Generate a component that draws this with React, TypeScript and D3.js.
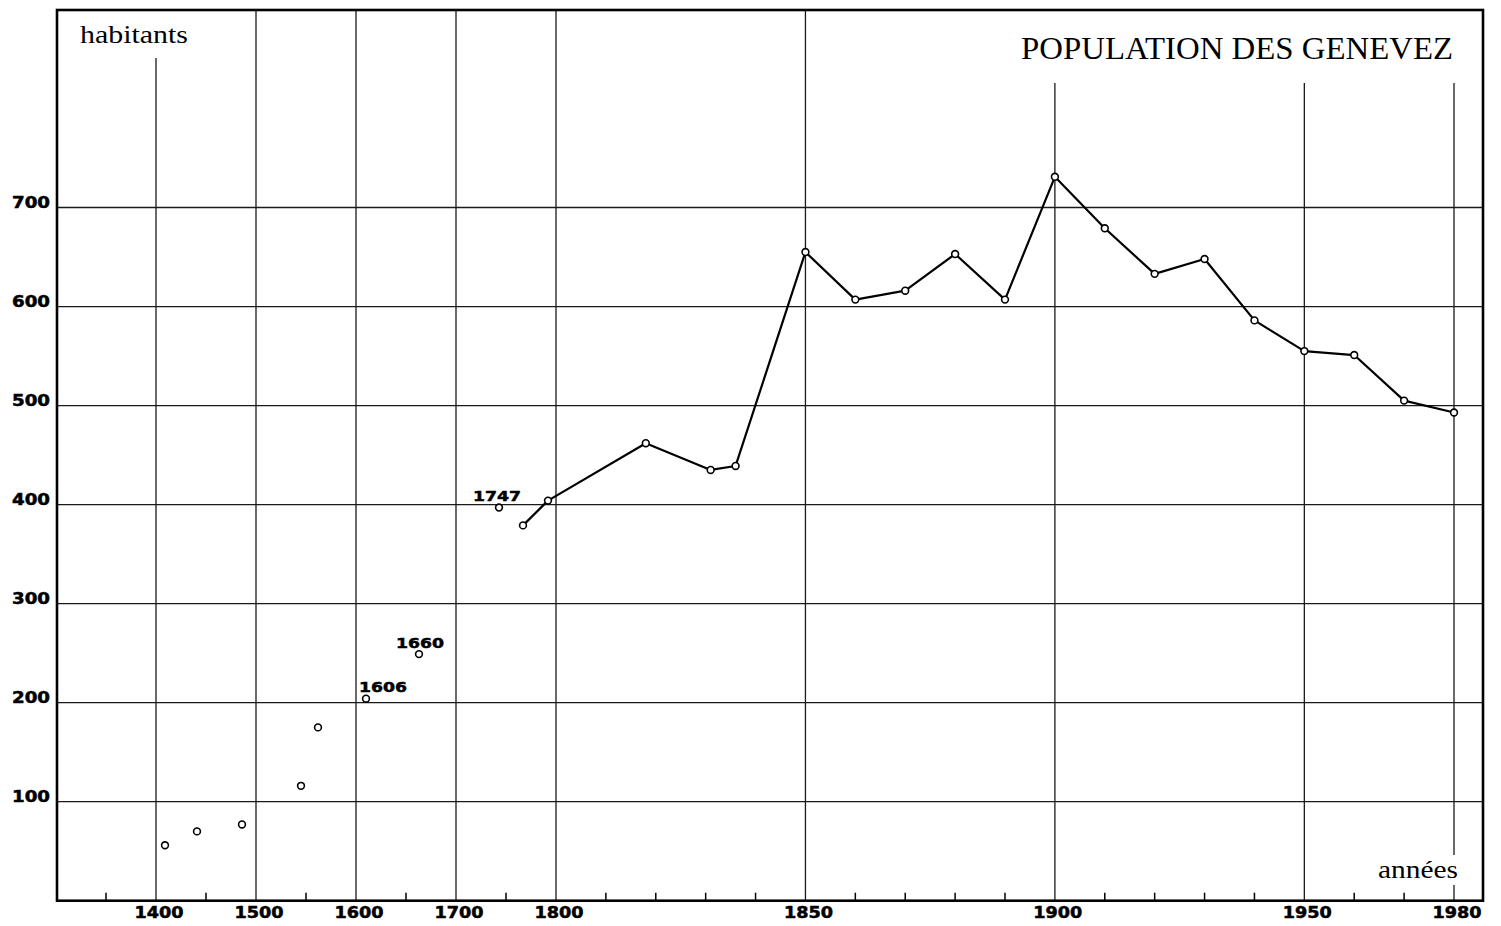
import React from "react";
import * as d3 from "d3";

// ---- data ----
const EARLY_YEARS = [1409, 1441, 1486, 1545, 1562, 1610, 1663, 1743];
const EARLY_VALUES = [56, 70, 77, 116, 175, 204, 249, 397];
const EARLY_LABELS = ["", "", "", "", "", "1606", "1660", "1747"];

const SERIES_YEARS = [1767, 1792, 1818, 1831, 1836, 1850, 1860, 1870, 1880, 1890, 1900, 1910, 1920, 1930, 1940, 1950, 1960, 1970, 1980];
const SERIES_VALUES = [379, 404, 462, 435, 439, 655, 607, 616, 653, 607, 731, 679, 633, 648, 586, 555, 551, 505, 493];

const Y_TICKS = [100, 200, 300, 400, 500, 600, 700];
const X_MAJOR = [1400, 1500, 1600, 1700, 1800, 1850, 1900, 1950, 1980];
const X_MINOR = [1350, 1450, 1550, 1650, 1750, 1810, 1820, 1830, 1840, 1860, 1870, 1880, 1890, 1910, 1920, 1930, 1940, 1960, 1970];

const TITLE = "POPULATION DES GENEVEZ";
const Y_TITLE = "habitants";
const X_TITLE = "années";

// ---- layout ----
const W = 1501, H = 926;
const L = 57, T = 10, R = 1483, B = 900.7;
const DIGIT_FONT = "'DejaVu Sans', sans-serif";
const SERIF = "'Liberation Serif', 'Times New Roman', serif";

// top of each major gridline (some are shortened below text)
const gridTop: Record<number, number> = { 1400: 58, 1900: 83, 1950: 83, 1980: 83 };
// label offsets for annotations
const labelDx: Record<string, number> = { "1606": 17, "1660": 1, "1747": -2 };

export default function App() {
  const x = d3.scaleLinear().domain([1301, 1800, 1980]).range([L, 556, 1454]);
  const y = d3.scaleLinear().domain([0, 700]).range([B, 207.5]);

  const seriesPts = SERIES_YEARS.map((yr, i) => [x(yr), y(SERIES_VALUES[i])] as [number, number]);
  const line = d3.line()(seriesPts) || "";

  const earlyPts = EARLY_YEARS.map((yr, i) => ({ cx: x(yr), cy: y(EARLY_VALUES[i]), label: EARLY_LABELS[i] }));

  const gridColor = "#1a1a1a";
  const digitProps = {
    fontFamily: DIGIT_FONT,
    fontWeight: "bold" as const,
    fill: "#000",
    stroke: "#000",
    strokeWidth: 0.5,
    lengthAdjust: "spacingAndGlyphs" as const,
  };

  return (
    <svg width={W} height={H} style={{ position: "absolute", left: 0, top: 0, background: "#fff" }}>
      <rect x={0} y={0} width={W} height={H} fill="#fff" />
      {/* horizontal gridlines */}
      {Y_TICKS.map((v) => (
        <line key={"h" + v} x1={L} x2={R} y1={y(v)} y2={y(v)} stroke={gridColor} strokeWidth={1.3} />
      ))}
      {/* vertical gridlines */}
      {X_MAJOR.map((yr) => {
        const top = gridTop[yr] ?? T;
        if (yr === 1980) {
          return (
            <g key={"v" + yr}>
              <line x1={x(yr)} x2={x(yr)} y1={top} y2={855} stroke={gridColor} strokeWidth={1.3} />
              <line x1={x(yr)} x2={x(yr)} y1={885} y2={B} stroke={gridColor} strokeWidth={1.3} />
            </g>
          );
        }
        return <line key={"v" + yr} x1={x(yr)} x2={x(yr)} y1={top} y2={B} stroke={gridColor} strokeWidth={1.3} />;
      })}
      {/* minor ticks */}
      {X_MINOR.map((yr) => (
        <line key={"m" + yr} x1={x(yr)} x2={x(yr)} y1={B - 8} y2={B} stroke="#000" strokeWidth={1.5} />
      ))}
      {/* frame */}
      <rect x={L} y={T} width={R - L} height={B - T} fill="none" stroke="#000" strokeWidth={2.6} />

      {/* y labels */}
      {Y_TICKS.map((v) => (
        <text key={"yl" + v} x={50} y={y(v) + 0.5} textAnchor="end" fontSize={15} textLength={38} {...digitProps}>{v}</text>
      ))}
      {/* x labels */}
      {X_MAJOR.map((yr) => (
        <text key={"xl" + yr} x={x(yr) + 3} y={917.5} textAnchor="middle" fontSize={15} textLength={49} {...digitProps}>{yr}</text>
      ))}

      {/* titles */}
      <text x={1021} y={59} fontFamily={SERIF} fontSize={32} textLength={432} lengthAdjust="spacingAndGlyphs" fill="#000">{TITLE}</text>
      <text x={80} y={43} fontFamily={SERIF} fontSize={26} textLength={108} lengthAdjust="spacingAndGlyphs" fill="#000">{Y_TITLE}</text>
      <text x={1378} y={878} fontFamily={SERIF} fontSize={25} textLength={80} lengthAdjust="spacingAndGlyphs" fill="#000">{X_TITLE}</text>

      {/* series line */}
      <path d={line} fill="none" stroke="#000" strokeWidth={2.2} strokeLinejoin="round" />

      {/* points */}
      {seriesPts.map(([cx, cy], i) => (
        <circle key={"s" + i} cx={cx} cy={cy} r={3.4} fill="#fff" stroke="#000" strokeWidth={1.6} />
      ))}
      {earlyPts.map((p, i) => (
        <g key={"e" + i}>
          <circle cx={p.cx} cy={p.cy} r={3.4} fill="#fff" stroke="#000" strokeWidth={1.6} />
          {p.label && (
            <text x={p.cx + (labelDx[p.label] ?? 0)} y={p.cy - 6.5} textAnchor="middle" fontSize={14} textLength={48} {...digitProps}>{p.label}</text>
          )}
        </g>
      ))}
    </svg>
  );
}
